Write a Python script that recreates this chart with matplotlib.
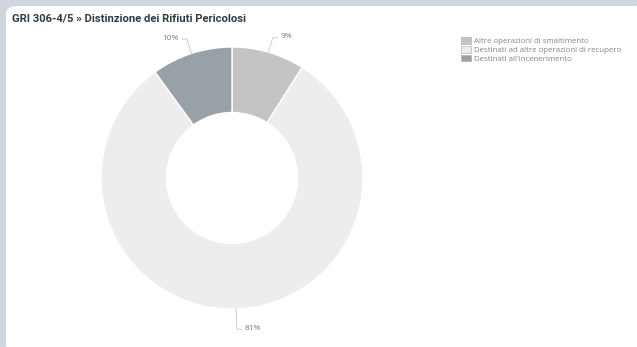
import numpy as np
import matplotlib
matplotlib.use('Agg')
import matplotlib.pyplot as plt
from matplotlib.patches import FancyBboxPatch, Patch

# data
categories = ['Altre operazioni di smaltimento',
              'Destinati ad altre operazioni di recupero',
              "Destinati all'incenerimento"]
values = [9, 81, 10]
colors = ['#c4c4c4', '#eeeced', '#99a1a8']
title = 'GRI 306-4/5 \u00bb Distinzione dei Rifiuti Pericolosi'
leader_len = [0.115, 0.155, 0.115]   # label line length, per slice

W, H = 637, 347
plt.rcParams['font.family'] = ['Open Sans', 'DejaVu Sans']
fig = plt.figure(figsize=(W / 100, H / 100), dpi=100)
fig.patch.set_facecolor('#cfd6dd')

# white card
card = FancyBboxPatch((6 / W, -5 / H), 640 / W, 346 / H,
                      boxstyle='round,pad=0,rounding_size=0.02',
                      transform=fig.transFigure, facecolor='white',
                      edgecolor='none', zorder=-5)
fig.patches.append(card)

fig.text(12 / W, 1 - 19 / H, title, fontsize=8.1, fontweight='bold',
         family=['Roboto', 'DejaVu Sans'],
         color='#2f3b45', va='center', ha='left')

# donut
cx, cy, r = 232, 178, 131
ax = fig.add_axes([(cx - r) / W, (H - cy - r) / H, 2 * r / W, 2 * r / H])
ax.set_zorder(2)
wedges, _ = ax.pie(values, colors=colors, startangle=90, counterclock=False,
                   radius=1.0, wedgeprops=dict(width=0.5, edgecolor='white',
                                               linewidth=1.0))
ax.set_xlim(-1, 1)
ax.set_ylim(-1, 1)
ax.axis('off')

for w, v, ll in zip(wedges, values, leader_len):
    ang = np.radians((w.theta1 + w.theta2) / 2)
    c, s = np.cos(ang), np.sin(ang)
    x1, y1 = c * 1.0, s * 1.0
    x2, y2 = c * (1 + ll), s * (1 + ll)
    side = 1 if c >= 0 else -1
    x3 = x2 + side * 0.035
    ax.plot([x1, x2, x3], [y1, y2, y2], color='#c4c4c4', lw=0.6,
            clip_on=False, solid_capstyle='round')
    ax.text(x3 + side * 0.025, y2 + 0.008, '%d%%' % v, fontsize=6.0,
            color='#7a7a7a', ha='left' if side > 0 else 'right',
            va='center', clip_on=False)

handles = [Patch(facecolor=col, edgecolor='#a8a8a8', linewidth=0.4)
           for col in colors]
leg = fig.legend(handles, categories, loc='upper left',
                 bbox_to_anchor=(461 / W, 1 - 37.5 / H), frameon=False,
                 fontsize=5.7, labelcolor='#858585', handlelength=1.25,
                 handleheight=0.85, handletextpad=0.45, labelspacing=0.1,
                 borderpad=0, borderaxespad=0)
leg.set_zorder(3)

fig.savefig('out.png', dpi=100, facecolor=fig.get_facecolor())
